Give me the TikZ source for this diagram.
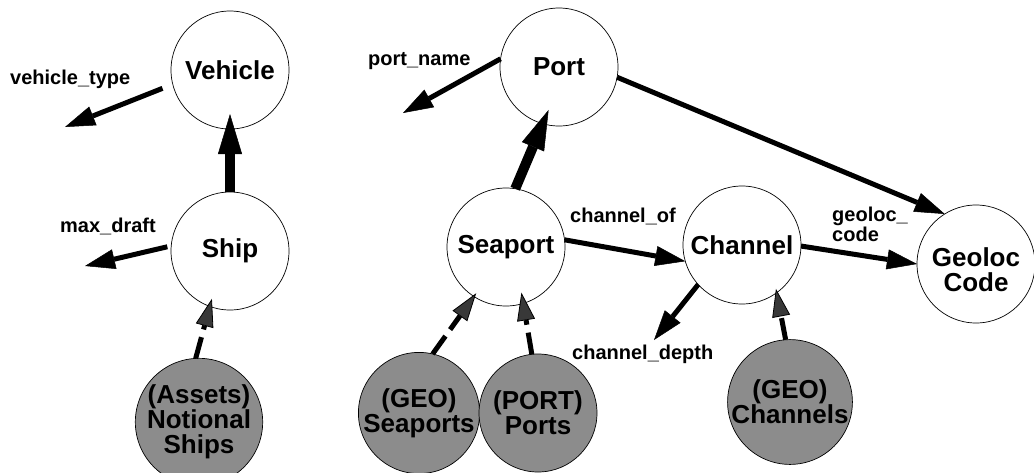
\documentclass[tikz,border=0pt]{standalone}
\usepackage{fontspec}
\setmainfont{Liberation Sans}
\usetikzlibrary{arrows.meta}
\tikzset{
  ent/.style={circle, draw, line width=0.7pt, minimum size=118pt, inner sep=0pt, outer sep=0pt,
    align=center, font=\fontsize{26}{25}\selectfont\bfseries},
  src/.style={ent, fill=black!45},
  lbl/.style={inner sep=0pt, font=\fontsize{20}{20}\selectfont\bfseries},
  arr/.style={line width=5pt, -{Triangle[length=30pt,width=20pt,line width=0.5pt]}},
  bigarr/.style={line width=10pt, -{Triangle[length=40pt,width=24pt,line width=0.5pt]}},
  darr/.style={line width=5pt, dash pattern=on 22pt off 8pt,
    -{Triangle[length=28pt,width=18pt,line width=0.8pt,fill=black!78]}}
}
\begin{document}
\begin{tikzpicture}[x=1pt,y=-1pt]
\useasboundingbox (0,0) rectangle (1034,472);
\clip (0,0) rectangle (1034,472);
% entity nodes
\node[ent] (vehicle) at (230,70) {Vehicle};
\node[ent] (ship) at (230,251) {Ship};
\node[src] (notional) at (199,422) {(Assets)\\Notional\\Ships};
\node[ent] (port) at (559,67) {Port};
\node[ent] (seaport) at (506,247) {Seaport};
\node[ent] (channel) at (742,245) {Channel};
\node[ent] (geoloc) at (976,264) {\rule{0pt}{30pt}Geoloc\\Code};
\node[src] (geoseaports) at (419,413) {(GEO)\\Seaports};
\node[src] (portports) at (538,413) {(PORT)\\Ports};
\node[src] (geochannels) at (790,402) {(GEO)\\Channels};
% attribute labels
\node[lbl, anchor=base west] (vtl) at (10,84) {vehicle\_type};
\node[lbl, anchor=base west] (mdl) at (60,232) {max\_draft};
\node[lbl, anchor=base west] (pnl) at (368,65) {port\_name};
\node[lbl, anchor=base west] (col) at (570,222) {channel\_of};
\node[lbl, anchor=base west] (cdl) at (572,359) {channel\_depth};
\node[lbl, anchor=north west, align=left] (gcl) at (832,207) {geoloc\_\\code};
% free arrow ends
\coordinate (vtend) at (65,127);
\coordinate (mdend) at (85,266);
\coordinate (pnend) at (403,113);
\coordinate (cdend) at (654,340);
% connectors
\draw[arr, shorten <=11pt] (vehicle.194) -- (vtend);
\draw[bigarr, shorten >=-15pt] (ship.north) -- (vehicle.south);
\draw[arr, shorten <=4pt] (ship.175) -- (mdend);
\draw[darr, shorten >=-8pt] (notional.93) -- (ship.250);
\draw[arr] (port.172) -- (pnend);
\draw[bigarr, shorten >=-15pt] (seaport.81) -- (port.254);
\draw[arr] (port.350) -- (geoloc.122);
\draw[arr] (seaport.7) -- (channel.196);
\draw[arr] (channel.222) -- (cdend);
\draw[arr] (channel.359) -- (geoloc.180);
\draw[darr, shorten >=-4pt] (geochannels.94) -- (channel.306);
\draw[darr, shorten >=-4pt] (geoseaports.77) -- (seaport.237);
\draw[darr, shorten >=-11pt] (portports.96) -- (seaport.287);
\end{tikzpicture}
\end{document}
